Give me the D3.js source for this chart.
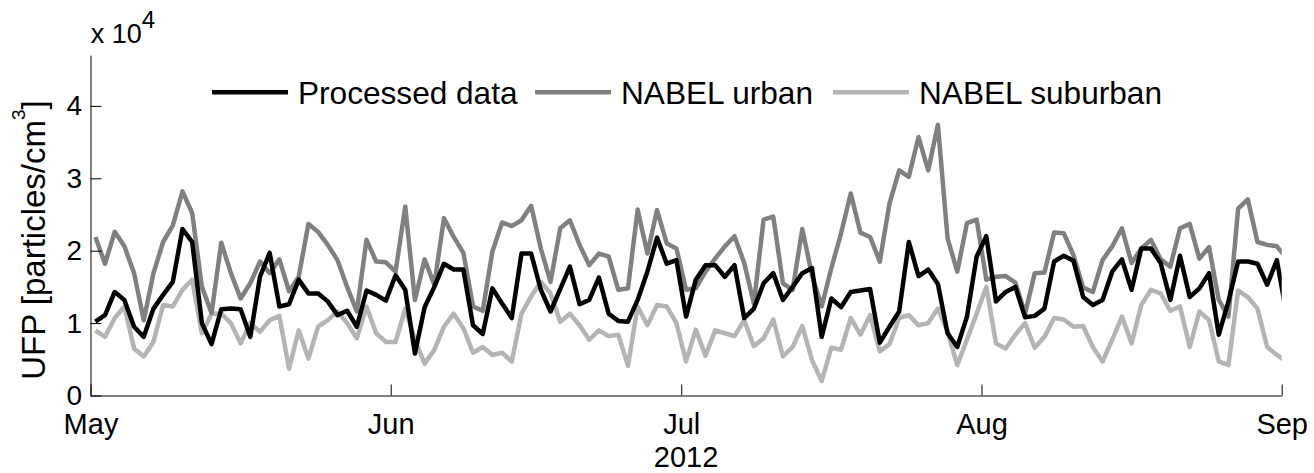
<!DOCTYPE html>
<html>
<head>
<meta charset="utf-8">
<script src="https://cdn.jsdelivr.net/npm/d3@7"></script>
<style>
  body { margin: 0; background: #fff; }
  text { font-family: "Liberation Sans", Arial, sans-serif; fill: #000; }
</style>
</head>
<body>
<div id="chart"></div>
<script>
// Daily mean UFP, in units of 1e4 particles/cm3, one value per day from 1 May 2012
var processed = [
  1.02, 1.11, 1.43, 1.32, 0.95, 0.81, 1.20, 1.39, 1.57, 2.30,
  2.12, 1.00, 0.71, 1.19, 1.20, 1.19, 0.81, 1.64, 1.97, 1.23,
  1.26, 1.60, 1.41, 1.41, 1.30, 1.11, 1.17, 0.95, 1.45, 1.39,
  1.31, 1.66, 1.46, 0.58, 1.22, 1.50, 1.82, 1.74, 1.74, 0.97,
  0.85, 1.48, 1.27, 1.07, 1.96, 1.96, 1.46, 1.16, 1.47, 1.78,
  1.26, 1.32, 1.63, 1.13, 1.03, 1.02, 1.32, 1.71, 2.18, 1.82,
  1.87, 1.09, 1.60, 1.80, 1.80, 1.64, 1.80, 1.07, 1.20, 1.55,
  1.69, 1.32, 1.50, 1.69, 1.76, 0.81, 1.34, 1.22, 1.43, 1.45,
  1.47, 0.73, 0.95, 1.16, 2.12, 1.65, 1.74, 1.54, 0.86, 0.67,
  1.09, 1.92, 2.20, 1.30, 1.43, 1.50, 1.08, 1.10, 1.20, 1.85,
  1.93, 1.86, 1.36, 1.25, 1.32, 1.71, 1.88, 1.46, 2.03, 2.03,
  1.83, 1.32, 1.93, 1.36, 1.48, 1.69, 0.84, 1.30, 1.85, 1.85,
  1.82, 1.53, 1.87, 1.12
];
var urban = [
  2.19, 1.82, 2.26, 2.06, 1.69, 1.04, 1.69, 2.12, 2.35, 2.82,
  2.52, 1.50, 1.14, 2.11, 1.69, 1.34, 1.55, 1.85, 1.69, 1.88,
  1.44, 1.64, 2.37, 2.26, 2.08, 1.87, 1.50, 1.16, 2.15, 1.85,
  1.84, 1.71, 2.61, 1.32, 1.88, 1.53, 2.45, 2.19, 1.97, 1.23,
  1.17, 1.99, 2.39, 2.34, 2.42, 2.62, 2.03, 1.57, 2.31, 2.42,
  2.08, 1.80, 1.96, 1.92, 1.46, 1.48, 2.57, 1.96, 2.56, 2.10,
  2.03, 1.46, 1.48, 1.71, 1.89, 2.06, 2.20, 1.83, 1.27, 2.43,
  2.47, 1.55, 1.46, 2.30, 1.66, 1.23, 1.76, 2.24, 2.79, 2.25,
  2.19, 1.85, 2.65, 3.11, 3.02, 3.57, 3.11, 3.74, 2.17, 1.71,
  2.38, 2.43, 1.60, 1.64, 1.65, 1.56, 1.13, 1.69, 1.70, 2.25,
  2.24, 1.94, 1.49, 1.43, 1.87, 2.06, 2.31, 1.83, 2.03, 2.15,
  1.88, 1.78, 2.31, 2.37, 1.89, 2.05, 1.32, 1.09, 2.58, 2.71,
  2.12, 2.08, 2.06, 1.90
];
var suburban = [
  0.90, 0.81, 1.07, 1.23, 0.65, 0.54, 0.74, 1.25, 1.23, 1.46,
  1.60, 0.86, 1.13, 1.13, 1.00, 0.72, 1.00, 0.88, 1.04, 1.10,
  0.37, 0.90, 0.51, 0.95, 1.04, 1.16, 1.00, 0.79, 1.23, 0.86,
  0.74, 0.74, 1.20, 0.77, 0.44, 0.63, 0.95, 1.13, 0.93, 0.59,
  0.67, 0.56, 0.59, 0.47, 1.13, 1.37, 1.57, 1.41, 1.02, 1.13,
  0.97, 0.77, 0.90, 0.82, 0.84, 0.41, 1.23, 0.97, 1.25, 1.23,
  1.00, 0.47, 0.91, 0.55, 0.90, 0.86, 0.82, 1.04, 0.68, 0.79,
  1.05, 0.54, 0.67, 0.96, 0.49, 0.20, 0.66, 0.63, 1.07, 0.84,
  1.11, 0.61, 0.71, 1.07, 1.11, 0.97, 1.00, 1.20, 0.88, 0.42,
  0.77, 1.13, 1.50, 0.72, 0.65, 0.84, 1.00, 0.66, 0.81, 1.07,
  1.05, 0.95, 0.96, 0.67, 0.47, 0.77, 1.09, 0.72, 1.25, 1.46,
  1.41, 1.17, 1.23, 0.67, 1.16, 1.04, 0.47, 0.42, 1.45, 1.36,
  1.20, 0.67, 0.56, 0.47
];
var seriesNames = ["Processed data", "NABEL urban", "NABEL suburban"];
var seriesColors = ["#000000", "#808080", "#b4b4b4"];
var monthLabels = ["May", "Jun", "Jul", "Aug", "Sep"];
var yTickValues = [0, 1, 2, 3, 4];

var width = 1314, height = 473;
var svg = d3.select("#chart").append("svg")
    .attr("width", width)
    .attr("height", height);

var start = new Date(Date.UTC(2012, 4, 1));
var end = new Date(Date.UTC(2012, 8, 1));

var x = d3.scaleUtc().domain([start, end]).range([90.5, 1281.7]);
var y = d3.scaleLinear().domain([0, 4.7]).range([395.5, 55.2]);

// daily values are plotted at noon of each day
function dayDate(i) { return new Date(Date.UTC(2012, 4, 1 + i, 12)); }

svg.append("clipPath").attr("id", "plotclip")
  .append("rect")
    .attr("x", x.range()[0]).attr("y", 0)
    .attr("width", x.range()[1] - x.range()[0]).attr("height", height);

var line = d3.line()
    .x(function(d, i) { return x(dayDate(i)); })
    .y(function(d) { return y(d); });

// suburban drawn first, processed data on top
var g = svg.append("g").attr("clip-path", "url(#plotclip)");
[suburban, urban, processed].forEach(function(s, k) {
  g.append("path")
    .datum(s)
    .attr("d", line)
    .attr("fill", "none")
    .attr("stroke", seriesColors[2 - k])
    .attr("stroke-width", 4.5)
    .attr("stroke-linejoin", "round");
});

// axes
var monthTicks = d3.utcMonth.range(start, d3.utcDay.offset(end, 1));
var xAxis = d3.axisBottom(x)
    .tickValues(monthTicks)
    .tickFormat(function(d, i) { return monthLabels[i]; })
    .tickSizeInner(-11).tickSizeOuter(0).tickPadding(18);
var gx = svg.append("g").attr("transform", "translate(0," + y(0) + ")").call(xAxis);
gx.selectAll("text").style("font-size", "29px");

var yAxis = d3.axisLeft(y)
    .tickValues(yTickValues)
    .tickFormat(d3.format("d"))
    .tickSizeInner(-11).tickSizeOuter(0).tickPadding(8.5);
var gy = svg.append("g").attr("transform", "translate(" + x(start) + ",0)").call(yAxis);
gy.selectAll("text").style("font-size", "28px");

svg.selectAll(".domain, .tick line").attr("stroke", "#000").attr("stroke-width", 1);
svg.selectAll(".tick text").attr("fill", "#000").style("font-family", "'Liberation Sans', Arial, sans-serif");

// exponent label
var expo = svg.append("text").attr("x", 90.7).attr("y", 43).style("font-size", "27px");
expo.append("tspan").text("x 10");
expo.append("tspan").attr("dy", -15).style("font-size", "24px").text("4");

// year label
svg.append("text")
    .attr("x", (x.range()[0] + x.range()[1]) / 2)
    .attr("y", 467)
    .attr("text-anchor", "middle")
    .style("font-size", "29px")
    .text("2012");

// y label
var yl = svg.append("text")
    .attr("transform", "translate(45,240) rotate(-90)")
    .attr("text-anchor", "middle")
    .style("font-size", "33px");
yl.append("tspan").text("UFP [particles/cm");
yl.append("tspan").attr("dy", -20).style("font-size", "19px").text("3");
yl.append("tspan").attr("dy", 20).text("]");

// legend
var legendX = [212, 535, 833];
var legend = svg.append("g");
seriesNames.forEach(function(name, i) {
  legend.append("line")
    .attr("x1", legendX[i]).attr("x2", legendX[i] + 76)
    .attr("y1", 92.3).attr("y2", 92.3)
    .attr("stroke", seriesColors[i])
    .attr("stroke-width", 4.5);
  legend.append("text")
    .attr("x", legendX[i] + 86)
    .attr("y", 104)
    .style("font-size", "31.6px")
    .text(name);
});
</script>
</body>
</html>
